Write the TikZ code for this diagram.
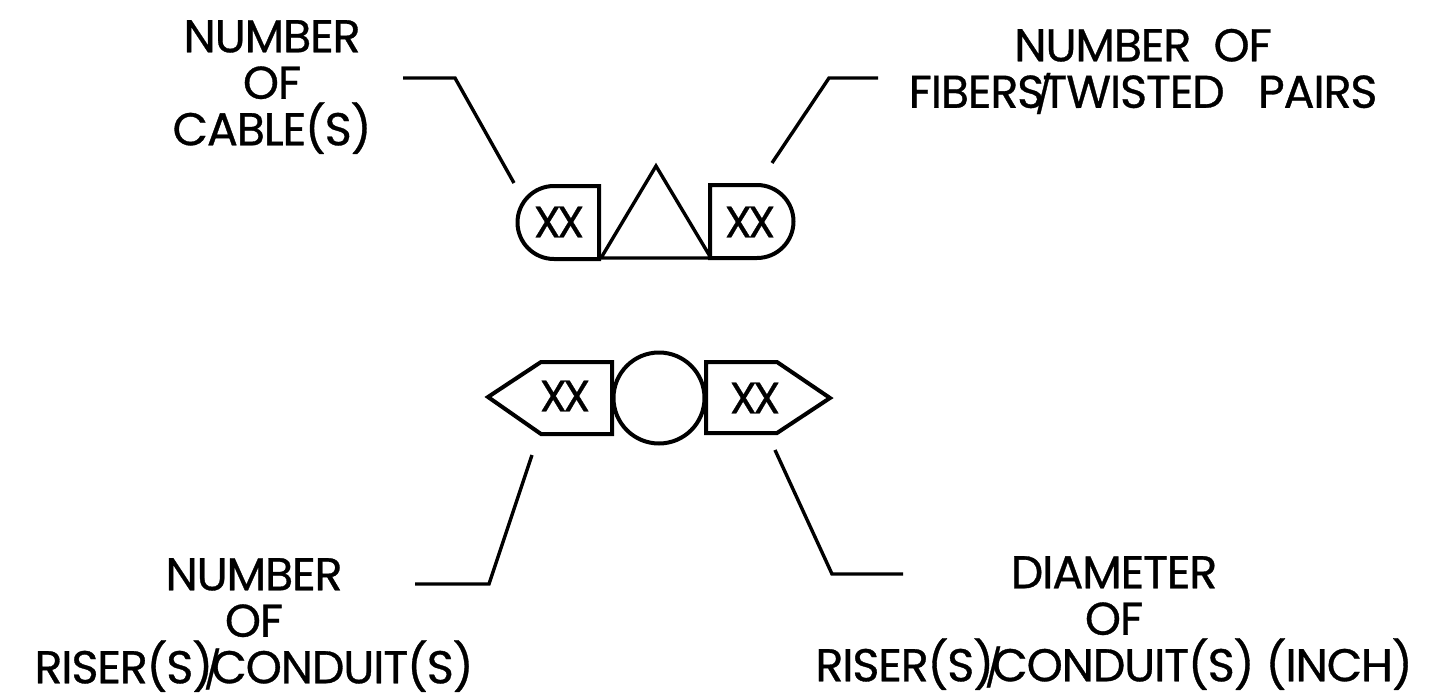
\documentclass[tikz,border=0pt]{standalone}
\usepackage{fontspec}
\setmainfont{Poppins}[LetterSpace=-2.5,RawFeature={embolden=0.7}]
\newfontfamily\xxfont{Poppins}[LetterSpace=-9,RawFeature={embolden=0.7}]
\newcommand{\nslash}{\kern-0.2em{\fontsize{37}{40}\selectfont /}\kern-0.22em}
\tikzset{
  lbl/.style={align=center,font=\fontsize{46}{46.5}\selectfont,inner sep=0pt},
  xxlbl/.style={font=\xxfont\fontsize{44}{45}\selectfont,inner sep=0pt},
  symb/.style={line width=4pt,line join=miter},
  lead/.style={line width=3.4pt}
}
\begin{document}
\begin{tikzpicture}[x=1pt,y=-1pt,symb]
\useasboundingbox (0,0) rectangle (1438,699);
\node[lbl] (cables) at (272,87) {NUMBER\\OF\\CABLE(S)};
\node[lbl] (fibers) at (1143,71.5) {NUMBER\ \ OF\\FIBERS\nslash TWISTED\ \ \ PAIRS};
\node[lbl] (risers) at (254,625) {NUMBER\\OF\\RISER(S)\nslash CONDUIT(S)};
\node[lbl] (diam) at (1114,623) {DIAMETER\\OF\\RISER(S)\nslash CONDUIT(S) (INCH)};
% top symbol
\coordinate (ta) at (656,166);
\coordinate (tb) at (601,258);
\coordinate (tc) at (711,258);
\draw[line width=3.4pt] (ta) -- (tb) -- (tc) -- cycle;
\draw (599,186) -- (554,186) arc[start angle=-90,end angle=-270,radius=36.5] -- (599,259) -- cycle;
\draw (710,185) -- (757,185) arc[start angle=-90,end angle=90,radius=36.5] -- (710,258) -- cycle;
\node[xxlbl] (xa) at (559,222) {XX};
\node[xxlbl] (xb) at (750,222) {XX};
% bottom symbol
\node[draw,circle,minimum size=91pt,inner sep=0pt] (pipe) at (659,398) {};
\draw (612,362) -- (541,362) -- (488,397) -- (541,434) -- (612,434) -- cycle;
\draw (706,362) -- (777,362) -- (830,398) -- (777,433) -- (706,433) -- cycle;
\node[xxlbl] (xc) at (565,396) {XX};
\node[xxlbl] (xd) at (755,398) {XX};
% leaders
\coordinate (la) at (514,183);
\coordinate (lb) at (455,78);
\coordinate (lc) at (403,78);
\draw[lead] (la) -- (lb) -- (lc);
\coordinate (ld) at (772,163);
\coordinate (le) at (829,78);
\coordinate (lf) at (878,78);
\draw[lead] (ld) -- (le) -- (lf);
\coordinate (lg) at (532,455);
\coordinate (lh) at (489,584);
\coordinate (li) at (415,584);
\draw[lead] (lg) -- (lh) -- (li);
\coordinate (lj) at (775,450);
\coordinate (lk) at (832,574);
\coordinate (ll) at (903,574);
\draw[lead] (lj) -- (lk) -- (ll);
\end{tikzpicture}
\end{document}
